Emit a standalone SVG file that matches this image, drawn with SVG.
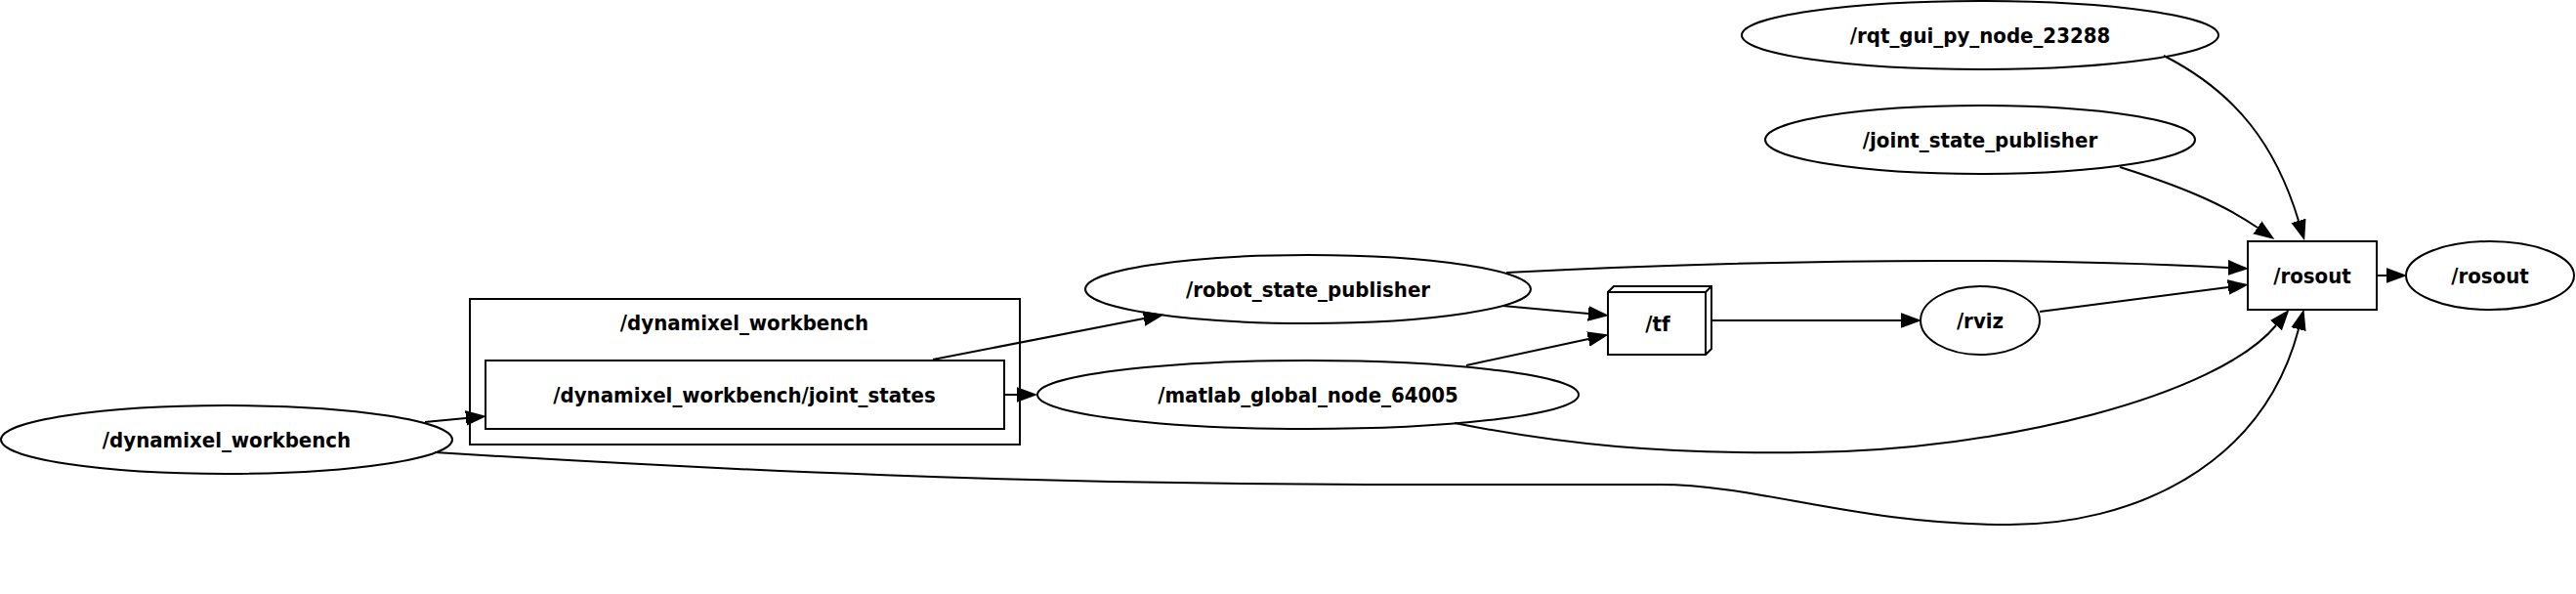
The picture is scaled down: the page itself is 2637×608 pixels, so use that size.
<svg xmlns="http://www.w3.org/2000/svg" width="2637" height="608" viewBox="0 0 2637 608">
<defs>
<style>
.shape{fill:none;stroke:#000;stroke-width:2}
.lbl{font-family:"DejaVu Sans Condensed","DejaVu Sans",sans-serif;font-stretch:condensed;font-weight:bold;font-size:22px;text-anchor:middle;fill:#000}
.edge path{fill:none;stroke:#000;stroke-width:2;marker-end:url(#arrow)}
</style>
<marker id="arrow" markerUnits="userSpaceOnUse" markerWidth="23" markerHeight="18" viewBox="0 -9 23 18" refX="0" refY="0" orient="auto">
<path d="M0,-7 L19,0 L0,7 Z" fill="#000" stroke="#000" stroke-width="1.5"/>
</marker>
</defs>
<rect width="2637" height="608" fill="#fff"/>

<g id="cluster_dynamixel_workbench">
<rect class="shape" x="481" y="306" width="563" height="149"/>
<text class="lbl" x="762" y="338">/dynamixel_workbench</text>
</g>

<g id="edges" class="edge">
<path d="M435,432 L477,428"/>
<path d="M955,368 L1171,326"/>
<path d="M1028,404 L1041,404"/>
<path d="M1538,313 L1626,321"/>
<path d="M1501,374 L1626,347"/>
<path d="M1542,279 C1800,266 2050,262 2281,274"/>
<path d="M1752,328 L1946,328"/>
<path d="M2088,319 L2281,294"/>
<path d="M2215,57 C2290,95 2330,150 2353,226"/>
<path d="M2170,171 C2230,190 2275,208 2311,233"/>
<path d="M1489,433 C1600,455 1700,465 1850,463 C2050,461 2270,405 2330,333"/>
<path d="M445,463 C750,482 1050,495 1400,496 L1700,496 C1800,496 1900,537 2057,537 C2180,537 2315,480 2353,337"/>
<path d="M2433,282 L2443,282"/>
</g>

<g id="n_dynamixel_workbench">
<ellipse class="shape" cx="232" cy="450" rx="231" ry="35"/>
<text class="lbl" x="232" y="458">/dynamixel_workbench</text>
</g>

<g id="t_joint_states">
<rect class="shape" x="497" y="369" width="531" height="70"/>
<text class="lbl" x="762" y="412">/dynamixel_workbench/joint_states</text>
</g>

<g id="n_robot_state_publisher">
<ellipse class="shape" cx="1339" cy="296" rx="228" ry="35"/>
<text class="lbl" x="1339" y="304">/robot_state_publisher</text>
</g>

<g id="n_matlab_global_node_64005">
<ellipse class="shape" cx="1339" cy="404" rx="277" ry="35"/>
<text class="lbl" x="1339" y="412">/matlab_global_node_64005</text>
</g>

<g id="t_tf">
<polygon class="shape" points="1752,293 1652,293 1646,299 1646,363 1746,363 1752,357"/>
<polyline class="shape" points="1646,299 1746,299 1746,363"/>
<polyline class="shape" points="1746,299 1752,293"/>
<text class="lbl" x="1697" y="339">/tf</text>
</g>

<g id="n_rviz">
<ellipse class="shape" cx="2027" cy="328" rx="61" ry="35"/>
<text class="lbl" x="2027" y="336">/rviz</text>
</g>

<g id="n_rqt_gui_py_node_23288">
<ellipse class="shape" cx="2027" cy="36" rx="244" ry="35"/>
<text class="lbl" x="2027" y="44">/rqt_gui_py_node_23288</text>
</g>

<g id="n_joint_state_publisher">
<ellipse class="shape" cx="2027" cy="143" rx="220" ry="35"/>
<text class="lbl" x="2027" y="151">/joint_state_publisher</text>
</g>

<g id="t_rosout">
<rect class="shape" x="2301" y="247" width="132" height="70"/>
<text class="lbl" x="2367" y="290">/rosout</text>
</g>

<g id="n_rosout">
<ellipse class="shape" cx="2549" cy="282" rx="86" ry="35"/>
<text class="lbl" x="2549" y="290">/rosout</text>
</g>
</svg>
